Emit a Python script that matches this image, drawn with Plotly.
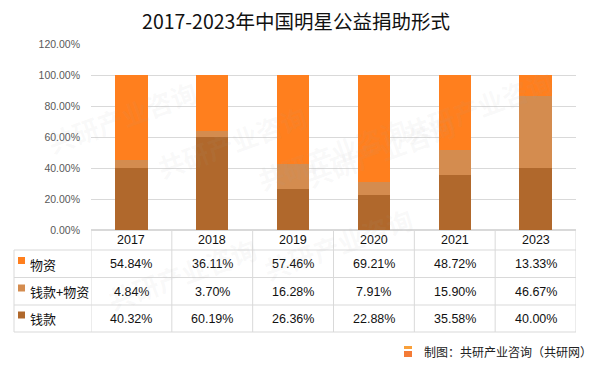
import plotly.graph_objects as go

# ---- data ----
years = ["2017", "2018", "2019", "2020", "2021", "2023"]
series_names = ["物资", "钱款+物资", "钱款"]
wuzi = [54.84, 36.11, 57.46, 69.21, 48.72, 13.33]
qiankuan_wuzi = [4.84, 3.70, 16.28, 7.91, 15.90, 46.67]
qiankuan = [40.32, 60.19, 26.36, 22.88, 35.58, 40.00]
y_ticks = [0, 20, 40, 60, 80, 100, 120]
title = "2017-2023年中国明星公益捐助形式"
source = "制图：共研产业咨询（共研网）"

colors = {"物资": "#FF7F1E", "钱款+物资": "#D48C4F", "钱款": "#B0682C"}
values = {"物资": wuzi, "钱款+物资": qiankuan_wuzi, "钱款": qiankuan}

W, H = 601, 367
L, R, T, B = 91, 25, 44, 137
PW, PH = W - L - R, H - T - B


def px_x(px):
    return (px - L) / PW


def px_y(py):
    return (H - B - py) / PH


fig = go.Figure()
for name in ["钱款", "钱款+物资", "物资"]:
    fig.add_trace(go.Bar(
        x=list(range(len(years))), y=values[name], name=name,
        marker=dict(color=colors[name], line=dict(width=0)),
        hoverinfo="skip",
    ))

shapes = []
grid = "#D9D9D9"
row_lines = [250, 277.5, 305, 332]
for yy in row_lines:
    shapes.append(dict(type="line", xref="paper", yref="paper",
                       x0=px_x(14), x1=1, y0=px_y(yy), y1=px_y(yy),
                       line=dict(color=grid, width=1)))
for i in range(len(years) + 1):
    xv = i - 0.5
    shapes.append(dict(type="line", xref="x", yref="paper",
                       x0=xv, x1=xv, y0=0, y1=px_y(332),
                       line=dict(color=grid, width=1)))
shapes.append(dict(type="line", xref="paper", yref="paper",
                   x0=px_x(14), x1=px_x(14), y0=px_y(250), y1=px_y(332),
                   line=dict(color=grid, width=1)))

annotations = []
tfont = dict(family="Liberation Sans, Arial, sans-serif", size=12.5, color="#111111")
for i, yr in enumerate(years):
    annotations.append(dict(x=i, y=px_y(240), xref="x", yref="paper", text=yr,
                            showarrow=False, font=tfont, xanchor="center", yanchor="middle"))
row_centers = [264, 291.5, 318.5]
for r, name in enumerate(series_names):
    yc = px_y(row_centers[r])
    shapes.append(dict(type="rect", xref="paper", yref="paper",
                       x0=px_x(18), x1=px_x(25), y0=px_y(row_centers[r] - 7), y1=px_y(row_centers[r]),
                       fillcolor=colors[name], line=dict(width=0)))
    annotations.append(dict(x=px_x(28), y=yc, xref="paper", yref="paper", text=name,
                            showarrow=False, xanchor="left", yanchor="middle",
                            font=dict(family="Noto Sans CJK SC, sans-serif", size=13, color="#111111")))
    for i, v in enumerate(values[name]):
        annotations.append(dict(x=i, y=yc, xref="x", yref="paper", text=f"{v:.2f}%",
                                showarrow=False, font=tfont, xanchor="center", yanchor="middle"))

# footer logo (small G-like mark) and source text
logo = "#F47B36"
shapes.append(dict(type="rect", xref="paper", yref="paper",
                   x0=px_x(404), x1=px_x(412), y0=px_y(349), y1=px_y(346),
                   fillcolor="#F9A03A", line=dict(width=0)))
shapes.append(dict(type="rect", xref="paper", yref="paper",
                   x0=px_x(404), x1=px_x(412), y0=px_y(357), y1=px_y(351),
                   fillcolor=logo, line=dict(width=0)))
annotations.append(dict(x=px_x(594), y=px_y(351.5), xref="paper", yref="paper", text=source,
                        showarrow=False, xanchor="right", yanchor="middle",
                        font=dict(family="Noto Sans CJK SC, sans-serif", size=12, color="#222222")))

# faint watermarks
wm_font = dict(family="Noto Sans CJK SC, sans-serif", size=26, color="rgba(170,170,170,0.07)")
for (wx, wy) in [(150, 95), (380, 150), (560, 60), (100, 320), (420, 290), (40, 70), (250, 200)]:
    annotations.append(dict(x=px_x(wx), y=px_y(wy), xref="paper", yref="paper", text="<b>共研产业咨询</b>",
                            showarrow=False, textangle=-20, font=wm_font))

fig.update_layout(
    width=W, height=H,
    margin=dict(l=L, r=R, t=T, b=B),
    paper_bgcolor="white", plot_bgcolor="white",
    barmode="stack", bargap=0.6,
    showlegend=False,
    title=dict(text=title, x=296 / W, xanchor="center", y=1 - 22 / H, yanchor="middle",
               font=dict(family="Noto Sans CJK SC, sans-serif", size=19.5, color="#111111")),
    xaxis=dict(range=[-0.5, len(years) - 0.5], showticklabels=False, showgrid=False,
               zeroline=False, showline=False, fixedrange=True),
    yaxis=dict(range=[0, 120], tickvals=y_ticks, ticktext=[f"{t:.2f}%" for t in y_ticks],
               showgrid=True, gridcolor=grid, gridwidth=1, zeroline=True, zerolinecolor=grid,
               ticks="", ticklabelstandoff=10, fixedrange=True,
               tickfont=dict(family="Liberation Sans, Arial, sans-serif", size=10.5, color="#595959")),
    shapes=shapes, annotations=annotations,
)

fig.write_html("out.html", config={"displayModeBar": False},
               post_script="document.body.style.margin='0';document.body.style.padding='0';")
